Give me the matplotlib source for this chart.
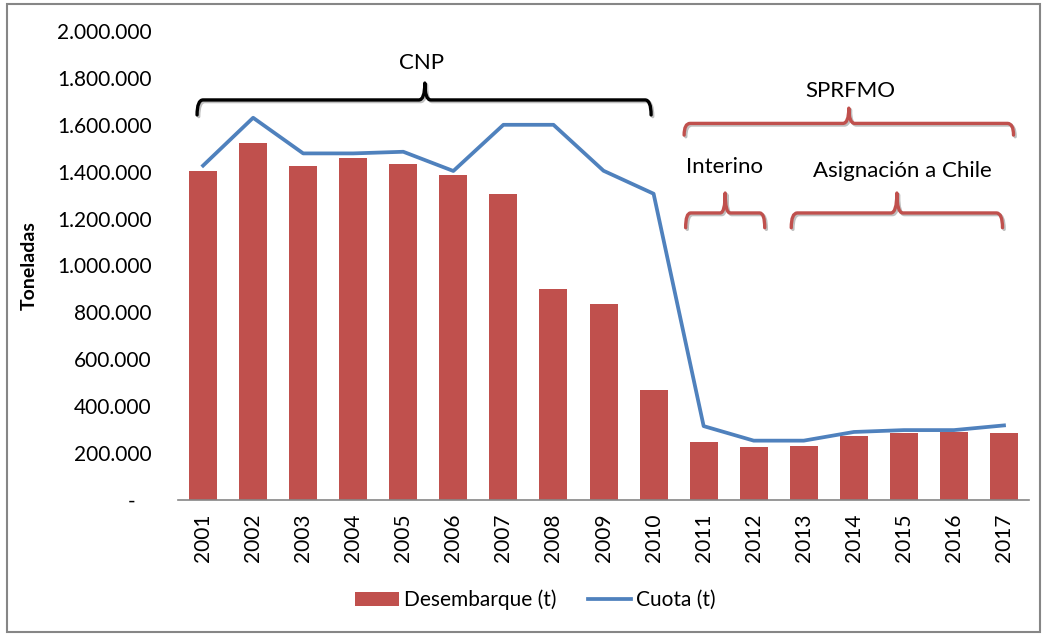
import matplotlib
matplotlib.use("Agg")
import matplotlib.pyplot as plt
import matplotlib.patheffects as pe
from matplotlib.path import Path
from matplotlib.patches import PathPatch, Rectangle
from matplotlib.ticker import FuncFormatter

years = ["2001", "2002", "2003", "2004", "2005", "2006", "2007", "2008", "2009",
         "2010", "2011", "2012", "2013", "2014", "2015", "2016", "2017"]
desembarque = [1404000, 1524000, 1424000, 1457000, 1433000, 1386000, 1304000, 900000,
               837000, 468000, 246000, 227000, 232000, 274000, 284000, 291000, 284000]
cuota = [1426000, 1630000, 1478000, 1478000, 1485000, 1403000, 1600000, 1600000,
         1404000, 1306000, 315000, 253000, 253000, 290000, 298000, 298000, 318000]

plt.rcParams["font.family"] = ["Lato", "DejaVu Sans"]

bar_color = "#C0504D"
line_color = "#4F81BD"

fig = plt.figure(figsize=(10.43, 6.34), dpi=100)
ax = fig.add_axes([0.1707, 0.2114, 0.8159, 0.7397])

x = list(range(len(years)))
bars = ax.bar(x, desembarque, width=0.56, color=bar_color, label="Desembarque (t)", zorder=2)
line, = ax.plot(x, cuota, color=line_color, lw=2.7, label="Cuota (t)", zorder=3)

ax.set_xlim(-0.5, len(years) - 0.5)
ax.set_ylim(0, 2000000)
ax.set_yticks(range(0, 2000001, 200000))


def fmt(v, pos):
    if v == 0:
        return "-   "
    return f"{int(v):,}".replace(",", ".")


ax.yaxis.set_major_formatter(FuncFormatter(fmt))
ax.set_xticks(x)
ax.set_xticklabels(years, rotation=90)
ax.tick_params(axis="y", length=0, pad=19, labelsize=15)
ax.tick_params(axis="x", length=0, pad=10, labelsize=15)

for s in ["top", "right", "left"]:
    ax.spines[s].set_visible(False)
ax.spines["bottom"].set_color("#868686")
ax.spines["bottom"].set_linewidth(1.2)

ax.set_ylabel("Toneladas", fontsize=14, fontweight="bold", labelpad=14)

shadow = [pe.SimpleLineShadow(offset=(1.2, -1.2), alpha=0.25), pe.Normal()]


def brace(x0, x1, xm, y, h, tip, rx, color):
    verts = [(x0, y - h), (x0, y), (x0 + rx, y),
             (xm - rx, y), (xm, y), (xm, y + tip),
             (xm, y), (xm + rx, y),
             (x1 - rx, y), (x1, y), (x1, y - h)]
    codes = [Path.MOVETO, Path.CURVE3, Path.CURVE3,
             Path.LINETO, Path.CURVE3, Path.CURVE3,
             Path.CURVE3, Path.CURVE3,
             Path.LINETO, Path.CURVE3, Path.CURVE3]
    ax.add_patch(PathPatch(Path(verts, codes), fill=False, edgecolor=color,
                           lw=2.4, capstyle="round", joinstyle="round",
                           clip_on=False, zorder=4, path_effects=shadow))


brace(-0.12, 8.95, 4.43, 1706000, 64000, 72000, 0.12, "black")
ax.text(4.37, 1837000, "CNP", ha="center", va="baseline", fontsize=16)

brace(9.61, 16.19, 12.90, 1606000, 50000, 65000, 0.12, bar_color)
ax.text(12.92, 1718000, "SPRFMO", ha="center", va="baseline", fontsize=16)

brace(9.64, 11.22, 10.43, 1224000, 63000, 85000, 0.1, bar_color)
ax.text(10.41, 1394000, "Interino", ha="center", va="baseline", fontsize=16)

brace(11.75, 15.97, 13.86, 1224000, 63000, 85000, 0.12, bar_color)
ax.text(13.96, 1377000, "Asignación a Chile", ha="center", va="baseline", fontsize=16)

ax.legend([bars, line], ["Desembarque (t)", "Cuota (t)"],
          loc="center", bbox_to_anchor=(0.5134, 0.0536), bbox_transform=fig.transFigure,
          ncol=2, frameon=False, fontsize=15, handlelength=2.1, handletextpad=0.25,
          columnspacing=1.5)

fig.patches.append(Rectangle((0.007, 0.003), 0.99, 0.99, transform=fig.transFigure,
                             fill=False, edgecolor="#868686", lw=1.5))

fig.savefig("out.png", dpi=100)
